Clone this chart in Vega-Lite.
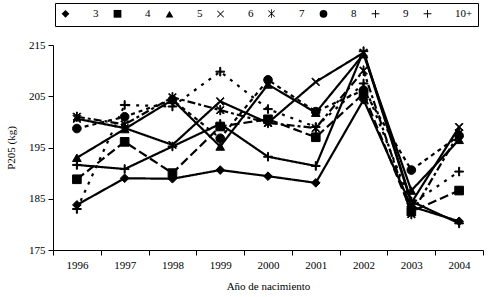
{
  "$schema": "https://vega.github.io/schema/vega-lite/v6.json",
  "width": 430,
  "height": 205,
  "autosize": "none",
  "padding": {"left": 53, "top": 45, "right": 5, "bottom": 47},
  "background": "white",
  "config": {
    "font": "Liberation Serif",
    "view": {"stroke": null},
    "axis": {
      "grid": false,
      "domainColor": "black",
      "tickColor": "black",
      "labelColor": "black",
      "titleColor": "black",
      "labelFontSize": 11,
      "titleFontSize": 11,
      "titleFontWeight": "normal",
      "tickSize": 5,
      "domainWidth": 1,
      "tickWidth": 1
    },
    "legend": {
      "orient": "none",
      "legendX": 2,
      "legendY": -42,
      "direction": "horizontal",
      "columns": 8,
      "strokeColor": "black",
      "padding": 5,
      "symbolSize": 60,
      "symbolFillColor": "black",
      "symbolStrokeColor": "black",
      "symbolStrokeWidth": 1.5,
      "labelFontSize": 11,
      "labelColor": "black",
      "labelOffset": 22,
      "columnPadding": 11
    }
  },
  "data": {
    "values": [
      {"year": "1996", "series": "3", "p": 183.8},
      {"year": "1997", "series": "3", "p": 189.0},
      {"year": "1998", "series": "3", "p": 188.9},
      {"year": "1999", "series": "3", "p": 190.6},
      {"year": "2000", "series": "3", "p": 189.4},
      {"year": "2001", "series": "3", "p": 188.1},
      {"year": "2002", "series": "3", "p": 204.3},
      {"year": "2003", "series": "3", "p": 183.5},
      {"year": "2004", "series": "3", "p": 180.6},
      {"year": "1996", "series": "4", "p": 188.8},
      {"year": "1997", "series": "4", "p": 196.1},
      {"year": "1998", "series": "4", "p": 190.0},
      {"year": "1999", "series": "4", "p": 199.1},
      {"year": "2000", "series": "4", "p": 200.5},
      {"year": "2001", "series": "4", "p": 197.0},
      {"year": "2002", "series": "4", "p": 205.5},
      {"year": "2003", "series": "4", "p": 182.5},
      {"year": "2004", "series": "4", "p": 186.6},
      {"year": "1996", "series": "5", "p": 193.0},
      {"year": "1997", "series": "5", "p": 198.6},
      {"year": "1998", "series": "5", "p": 204.3},
      {"year": "1999", "series": "5", "p": 195.2},
      {"year": "2000", "series": "5", "p": 207.3},
      {"year": "2001", "series": "5", "p": 201.8},
      {"year": "2002", "series": "5", "p": 213.2},
      {"year": "2003", "series": "5", "p": 186.6},
      {"year": "2004", "series": "5", "p": 196.5},
      {"year": "1996", "series": "6", "p": 200.6},
      {"year": "1997", "series": "6", "p": 198.8},
      {"year": "1998", "series": "6", "p": 195.5},
      {"year": "1999", "series": "6", "p": 204.0},
      {"year": "2000", "series": "6", "p": 199.8},
      {"year": "2001", "series": "6", "p": 207.8},
      {"year": "2002", "series": "6", "p": 213.5},
      {"year": "2003", "series": "6", "p": 184.2},
      {"year": "2004", "series": "6", "p": 199.0},
      {"year": "1996", "series": "7", "p": 201.0},
      {"year": "1997", "series": "7", "p": 199.5},
      {"year": "1998", "series": "7", "p": 204.8},
      {"year": "1999", "series": "7", "p": 202.3},
      {"year": "2000", "series": "7", "p": 199.8},
      {"year": "2001", "series": "7", "p": 198.8},
      {"year": "2002", "series": "7", "p": 210.0},
      {"year": "2003", "series": "7", "p": 182.0},
      {"year": "2004", "series": "7", "p": 197.8},
      {"year": "1996", "series": "8", "p": 198.7},
      {"year": "1997", "series": "8", "p": 201.0},
      {"year": "1998", "series": "8", "p": 204.3},
      {"year": "1999", "series": "8", "p": 196.8},
      {"year": "2000", "series": "8", "p": 208.2},
      {"year": "2001", "series": "8", "p": 202.0},
      {"year": "2002", "series": "8", "p": 206.2},
      {"year": "2003", "series": "8", "p": 190.6},
      {"year": "2004", "series": "8", "p": 197.3},
      {"year": "1996", "series": "9", "p": 183.0},
      {"year": "1997", "series": "9", "p": 203.3},
      {"year": "1998", "series": "9", "p": 203.0},
      {"year": "1999", "series": "9", "p": 209.8},
      {"year": "2000", "series": "9", "p": 202.5},
      {"year": "2001", "series": "9", "p": 199.0},
      {"year": "2002", "series": "9", "p": 207.5},
      {"year": "2003", "series": "9", "p": 184.0},
      {"year": "2004", "series": "9", "p": 190.3},
      {"year": "1996", "series": "10+", "p": 191.6},
      {"year": "1997", "series": "10+", "p": 190.8},
      {"year": "1998", "series": "10+", "p": 195.2},
      {"year": "1999", "series": "10+", "p": 199.6},
      {"year": "2000", "series": "10+", "p": 193.2},
      {"year": "2001", "series": "10+", "p": 191.4},
      {"year": "2002", "series": "10+", "p": 213.8},
      {"year": "2003", "series": "10+", "p": 184.5},
      {"year": "2004", "series": "10+", "p": 180.2}
    ]
  },
  "encoding": {
    "x": {
      "field": "year",
      "type": "ordinal",
      "scale": {"paddingInner": 0, "paddingOuter": 0},
      "axis": {
        "title": "Año de nacimiento",
        "labelAngle": 0,
        "tickBand": "extent",
        "labelPadding": 4,
        "titlePadding": 10
      }
    },
    "y": {
      "field": "p",
      "type": "quantitative",
      "scale": {"domain": [175, 215], "zero": false, "nice": false},
      "axis": {
        "title": "P205 (kg)",
        "values": [175, 185, 195, 205, 215],
        "labelPadding": 3,
        "titlePadding": 12
      }
    }
  },
  "layer": [
    {
      "mark": {"type": "line", "color": "black", "strokeWidth": 2.2},
      "encoding": {
        "detail": {"field": "series"},
        "strokeDash": {
          "condition": [
            {"test": "datum.series === '4'", "value": [9, 4]},
            {"test": "datum.series === '7'", "value": [8, 3, 3, 3]},
            {"test": "datum.series === '8'", "value": [4, 4]},
            {"test": "datum.series === '9'", "value": [3, 6]}
          ],
          "value": [1, 0]
        }
      }
    },
    {
      "mark": {"type": "point", "filled": true, "fill": "black", "stroke": "black", "opacity": 1, "strokeWidth": 1, "size": 75},
      "encoding": {
        "shape": {
          "field": "series",
          "type": "nominal",
          "title": null,
          "scale": {
            "domain": ["3", "4", "5", "6", "7", "8", "9", "10+"],
            "range": [
              "diamond",
              "square",
              "triangle-up",
              "M-0.9,-0.75L-0.75,-0.9L0.9,0.75L0.75,0.9ZM0.75,-0.9L0.9,-0.75L-0.75,0.9L-0.9,0.75Z",
              "M-0.9,-0.75L-0.75,-0.9L0.9,0.75L0.75,0.9ZM0.75,-0.9L0.9,-0.75L-0.75,0.9L-0.9,0.75ZM-0.1,-1.1L0.1,-1.1L0.1,1.1L-0.1,1.1Z",
              "circle",
              "M-1,-0.12L1,-0.12L1,0.12L-1,0.12ZM-0.12,-1L0.12,-1L0.12,1L-0.12,1Z",
              "M-1,-0.12L1,-0.12L1,0.12L-1,0.12ZM-0.12,-1L0.12,-1L0.12,1L-0.12,1Z"
            ]
          },
          "legend": {}
        }
      }
    }
  ]
}
